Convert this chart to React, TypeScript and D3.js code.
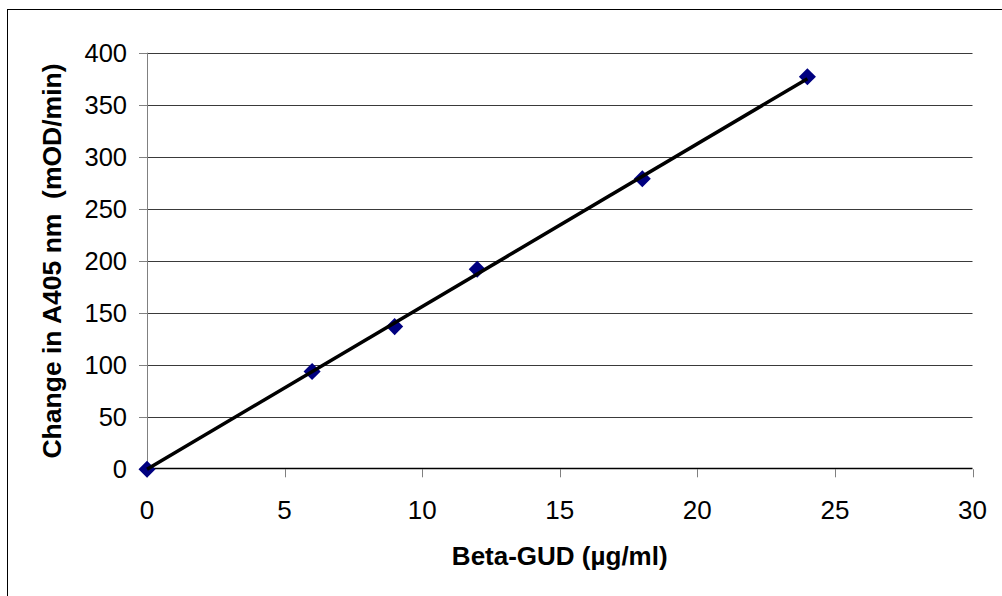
import React from 'react';
import * as d3 from 'd3';

const concentration = [0, 6, 9, 12, 18, 24];
const rateChange = [0, 94, 137, 192, 279, 377];
const trendX = [0, 24];
const trendY = [0, 375];
const xTicks = [0, 5, 10, 15, 20, 25, 30];
const yTicks = [0, 50, 100, 150, 200, 250, 300, 350, 400];
const xTitle = 'Beta-GUD (µg/ml)';
const yTitle = 'Change in A405 nm  (mOD/min)';

const width = 1002;
const height = 596;
const plot = { left: 147, right: 972.5, top: 52.7, bottom: 469.3 };
const font = '"Liberation Sans", Arial, sans-serif';

const App = () => {
    const xScale = d3.scaleLinear().domain([0, 30]).range([plot.left, plot.right]);
    const yScale = d3.scaleLinear().domain([0, 400]).range([plot.bottom, plot.top]);

    const points = concentration.map((c, i) => ({ x: c, y: rateChange[i] }));
    const trend = trendX.map((c, i) => ({ x: c, y: trendY[i] }));

    const line = d3
        .line<{ x: number; y: number }>()
        .x((d) => xScale(d.x))
        .y((d) => yScale(d.y));

    const diamond = d3.symbol().type(d3.symbolDiamond2).size(185)();

    return (
        <svg
            width={width}
            height={height}
            style={{ position: 'absolute', left: 0, top: 0, background: '#fff' }}
        >
            {/* chart area border */}
            <rect x={7.5} y={9.5} width={1100} height={700} fill="#fff" stroke="#000" strokeWidth={1} />

            {/* gridlines */}
            {yTicks
                .filter((t) => t > 0)
                .map((t) => (
                    <line
                        key={'g' + t}
                        x1={plot.left}
                        x2={plot.right}
                        y1={Math.round(yScale(t)) + 0.5}
                        y2={Math.round(yScale(t)) + 0.5}
                        stroke="#3a3a3a"
                        strokeWidth={1}
                    />
                ))}

            {/* y axis */}
            <line
                x1={plot.left + 0.5}
                x2={plot.left + 0.5}
                y1={plot.top}
                y2={plot.bottom}
                stroke="#808080"
            />
            {yTicks.map((t) => (
                <g key={'y' + t}>
                    <line
                        x1={plot.left - 8}
                        x2={plot.left}
                        y1={Math.round(yScale(t)) + 0.5}
                        y2={Math.round(yScale(t)) + 0.5}
                        stroke="#808080"
                    />
                    <text
                        x={127}
                        y={yScale(t) + 9}
                        textAnchor="end"
                        fontFamily={font}
                        fontSize={25.5}
                        fill="#000"
                    >
                        {t}
                    </text>
                </g>
            ))}

            {/* x axis */}
            {xTicks.map((t) => (
                <g key={'x' + t}>
                    <line
                        x1={Math.round(xScale(t)) + 0.5}
                        x2={Math.round(xScale(t)) + 0.5}
                        y1={plot.bottom}
                        y2={plot.bottom + 8}
                        stroke="#808080"
                    />
                    <text
                        x={xScale(t)}
                        y={519}
                        textAnchor="middle"
                        fontFamily={font}
                        fontSize={26}
                        fill="#000"
                    >
                        {t}
                    </text>
                </g>
            ))}
            <line
                x1={plot.left}
                x2={plot.right}
                y1={Math.round(plot.bottom) - 0.5}
                y2={Math.round(plot.bottom) - 0.5}
                stroke="#000"
                strokeWidth={1.5}
            />

            {/* data markers */}
            {points.map((d, i) => (
                <path
                    key={'p' + i}
                    d={diamond || ''}
                    transform={`translate(${xScale(d.x)},${yScale(d.y)})`}
                    fill="#000080"
                />
            ))}

            {/* linear trendline */}
            <path d={line(trend) || ''} fill="none" stroke="#000" strokeWidth={3.5} />

            {/* axis titles */}
            <text
                x={(plot.left + plot.right) / 2}
                y={565}
                textAnchor="middle"
                fontFamily={font}
                fontSize={26}
                fontWeight="bold"
                fill="#000"
            >
                {xTitle}
            </text>
            <text
                transform={`translate(61,${(plot.top + plot.bottom) / 2}) rotate(-90)`}
                textAnchor="middle"
                fontFamily={font}
                fontSize={26.5}
                fontWeight="bold"
                fill="#000"
                style={{ whiteSpace: 'pre' }}
            >
                {yTitle}
            </text>
        </svg>
    );
};

export default App;
